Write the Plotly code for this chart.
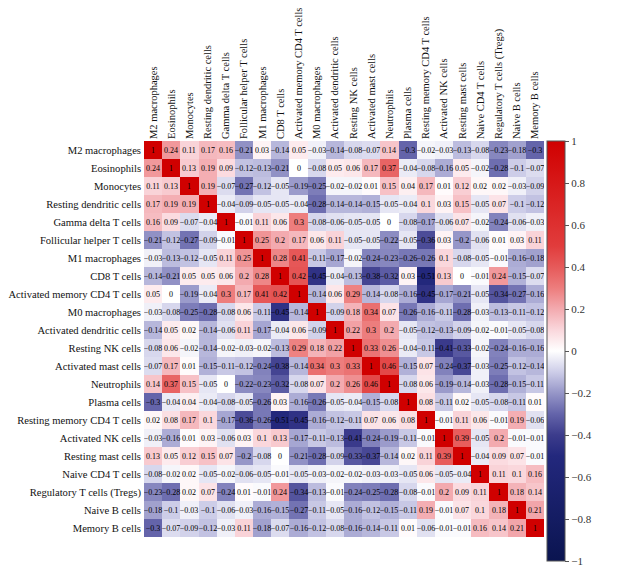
import plotly.graph_objects as go

# immune cell types, same order on both axes
cell_types = [
    "M2 macrophages", "Eosinophils", "Monocytes", "Resting dendritic cells",
    "Gamma delta T cells", "Follicular helper T cells", "M1 macrophages",
    "CD8 T cells", "Activated memory CD4 T cells", "M0 macrophages",
    "Activated dendritic cells", "Resting NK cells", "Activated mast cells",
    "Neutrophils", "Plasma cells", "Resting memory CD4 T cells",
    "Activated NK cells", "Resting mast cells", "Naive CD4 T cells",
    "Regulatory T cells (Tregs)", "Naive B cells", "Memory B cells",
]

# correlation values, one row per cell type
corr = [
    [1, 0.24, 0.11, 0.17, 0.16, -0.21, 0.03, -0.14, 0.05, -0.03, -0.14, -0.08, -0.07, 0.14, -0.3, -0.02, -0.03, -0.13, -0.08, -0.23, -0.18, -0.3],
    [0.24, 1, 0.13, 0.19, 0.09, -0.12, -0.13, -0.21, 0, -0.08, 0.05, 0.06, 0.17, 0.37, -0.04, -0.08, -0.16, 0.05, -0.02, -0.28, -0.1, -0.07],
    [0.11, 0.13, 1, 0.19, -0.07, -0.27, -0.12, -0.05, -0.19, -0.25, -0.02, -0.02, 0.01, 0.15, 0.04, 0.17, 0.01, 0.12, 0.02, 0.02, -0.03, -0.09],
    [0.17, 0.19, 0.19, 1, -0.04, -0.09, -0.05, -0.05, -0.04, -0.28, -0.14, -0.14, -0.15, -0.05, -0.04, 0.1, 0.03, 0.15, -0.05, 0.07, -0.1, -0.12],
    [0.16, 0.09, -0.07, -0.04, 1, -0.01, 0.11, 0.06, 0.3, -0.08, -0.06, -0.05, -0.05, 0, -0.08, -0.17, -0.06, 0.07, -0.02, -0.24, -0.06, -0.03],
    [-0.21, -0.12, -0.27, -0.09, -0.01, 1, 0.25, 0.2, 0.17, 0.06, 0.11, -0.05, -0.05, -0.22, -0.05, -0.36, 0.03, -0.2, -0.06, 0.01, 0.03, 0.11],
    [-0.03, -0.13, -0.12, -0.05, 0.11, 0.25, 1, 0.28, 0.41, -0.11, -0.17, -0.02, -0.24, -0.23, -0.26, -0.26, 0.1, -0.08, -0.05, -0.01, -0.16, -0.18],
    [-0.14, -0.21, 0.05, 0.05, 0.06, 0.2, 0.28, 1, 0.42, -0.45, -0.04, -0.13, -0.38, -0.32, 0.03, -0.51, 0.13, 0, -0.01, 0.24, -0.15, -0.07],
    [0.05, 0, -0.19, -0.04, 0.3, 0.17, 0.41, 0.42, 1, -0.14, 0.06, 0.29, -0.14, -0.08, -0.16, -0.45, -0.17, -0.21, -0.05, -0.34, -0.27, -0.16],
    [-0.03, -0.08, -0.25, -0.28, -0.08, 0.06, -0.11, -0.45, -0.14, 1, -0.09, 0.18, 0.34, 0.07, -0.26, -0.16, -0.11, -0.28, -0.03, -0.13, -0.11, -0.12],
    [-0.14, 0.05, 0.02, -0.14, -0.06, 0.11, -0.17, -0.04, 0.06, -0.09, 1, 0.22, 0.3, 0.2, -0.05, -0.12, -0.13, -0.09, -0.02, -0.01, -0.05, -0.08],
    [-0.08, 0.06, -0.02, -0.14, -0.02, -0.03, -0.02, -0.13, 0.29, 0.18, 0.22, 1, 0.33, 0.26, -0.04, -0.11, -0.41, -0.33, -0.02, -0.24, -0.16, -0.16],
    [-0.07, 0.17, 0.01, -0.15, -0.11, -0.12, -0.24, -0.38, -0.14, 0.34, 0.3, 0.33, 1, 0.46, -0.15, 0.07, -0.24, -0.37, -0.03, -0.25, -0.12, -0.14],
    [0.14, 0.37, 0.15, -0.05, 0, -0.22, -0.23, -0.32, -0.08, 0.07, 0.2, 0.26, 0.46, 1, -0.08, 0.06, -0.19, -0.14, -0.03, -0.28, -0.15, -0.11],
    [-0.3, -0.04, 0.04, -0.04, -0.08, -0.05, -0.26, 0.03, -0.16, -0.26, -0.05, -0.04, -0.15, -0.08, 1, 0.08, -0.11, 0.02, -0.05, -0.08, -0.11, 0.01],
    [0.02, 0.08, 0.17, 0.1, -0.17, -0.36, -0.26, -0.51, -0.45, -0.16, -0.12, -0.11, 0.07, 0.06, 0.08, 1, -0.01, 0.11, 0.06, -0.01, 0.19, -0.06],
    [-0.03, -0.16, 0.01, 0.03, -0.06, 0.03, 0.1, 0.13, -0.17, -0.11, -0.13, -0.41, -0.24, -0.19, -0.11, -0.01, 1, 0.39, -0.05, 0.2, -0.01, -0.01],
    [0.13, 0.05, 0.12, 0.15, 0.07, -0.2, -0.08, 0, -0.21, -0.28, -0.09, -0.33, -0.37, -0.14, 0.02, 0.11, 0.39, 1, -0.04, 0.09, 0.07, -0.01],
    [-0.08, -0.02, 0.02, -0.05, -0.02, -0.06, -0.05, -0.01, -0.05, -0.03, -0.02, -0.02, -0.03, -0.03, -0.05, 0.06, -0.05, -0.04, 1, 0.11, 0.1, 0.16],
    [-0.23, -0.28, 0.02, 0.07, -0.24, 0.01, -0.01, 0.24, -0.34, -0.13, -0.01, -0.24, -0.25, -0.28, -0.08, -0.01, 0.2, 0.09, 0.11, 1, 0.18, 0.14],
    [-0.18, -0.1, -0.03, -0.1, -0.06, -0.03, -0.16, -0.15, -0.27, -0.11, -0.05, -0.16, -0.12, -0.15, -0.11, 0.19, -0.01, 0.07, 0.1, 0.18, 1, 0.21],
    [-0.3, -0.07, -0.09, -0.12, -0.03, 0.11, -0.18, -0.07, -0.16, -0.12, -0.08, -0.16, -0.14, -0.11, 0.01, -0.06, -0.01, -0.01, 0.16, 0.14, 0.21, 1],
]

colorbar_ticks = [1, 0.8, 0.6, 0.4, 0.2, 0, -0.2, -0.4, -0.6, -0.8, -1]


def fmt(v):
    return f"{v:g}".replace("-", "\u2212")


cell_text = [[fmt(v) for v in row] for row in corr]

# navy -> white -> red, steeper near zero like the original
colorscale = [
    [0.00, "rgb(10,20,80)"],
    [0.25, "rgb(35,40,125)"],
    [0.30, "rgb(60,60,140)"],
    [0.35, "rgb(100,100,170)"],
    [0.40, "rgb(150,150,200)"],
    [0.45, "rgb(205,205,232)"],
    [0.50, "rgb(255,255,255)"],
    [0.55, "rgb(250,215,220)"],
    [0.60, "rgb(243,170,175)"],
    [0.65, "rgb(237,125,125)"],
    [0.70, "rgb(230,90,90)"],
    [0.75, "rgb(225,60,60)"],
    [1.00, "rgb(208,0,0)"],
]

serif = "Liberation Serif, Times New Roman, serif"

fig = go.Figure(go.Heatmap(
    z=corr,
    x=cell_types,
    y=cell_types,
    zmin=-1,
    zmax=1,
    colorscale=colorscale,
    text=cell_text,
    texttemplate="%{text}",
    textfont=dict(family=serif, size=8, color="black"),
    hoverinfo="skip",
    colorbar=dict(
        x=1.0065, xanchor="left", xpad=0,
        y=1.0, yanchor="top", ypad=0,
        lenmode="pixels", len=420,
        thickness=18,
        outlinewidth=1, outlinecolor="#555",
        tickvals=colorbar_ticks,
        ticktext=[fmt(t) for t in colorbar_ticks],
        ticks="outside", ticklen=4, tickcolor="#555",
        tickfont=dict(family=serif, size=11, color="#333"),
    ),
))

fig.update_layout(
    width=618,
    height=569,
    margin=dict(l=136, r=82, t=133, b=40, autoexpand=False),
    paper_bgcolor="white",
    plot_bgcolor="white",
    font=dict(family=serif, size=10.5, color="#111"),
)
fig.update_xaxes(side="top", tickangle=-90, showgrid=False, ticks="",
                 zeroline=False, ticklabelstandoff=1, automargin=False,
                 tickfont=dict(family=serif, size=10.5))
fig.update_yaxes(autorange="reversed", showgrid=False, ticks="",
                 zeroline=False, ticklabelstandoff=2, automargin=False,
                 tickfont=dict(family=serif, size=10.6))

fig.write_html("out.html")
